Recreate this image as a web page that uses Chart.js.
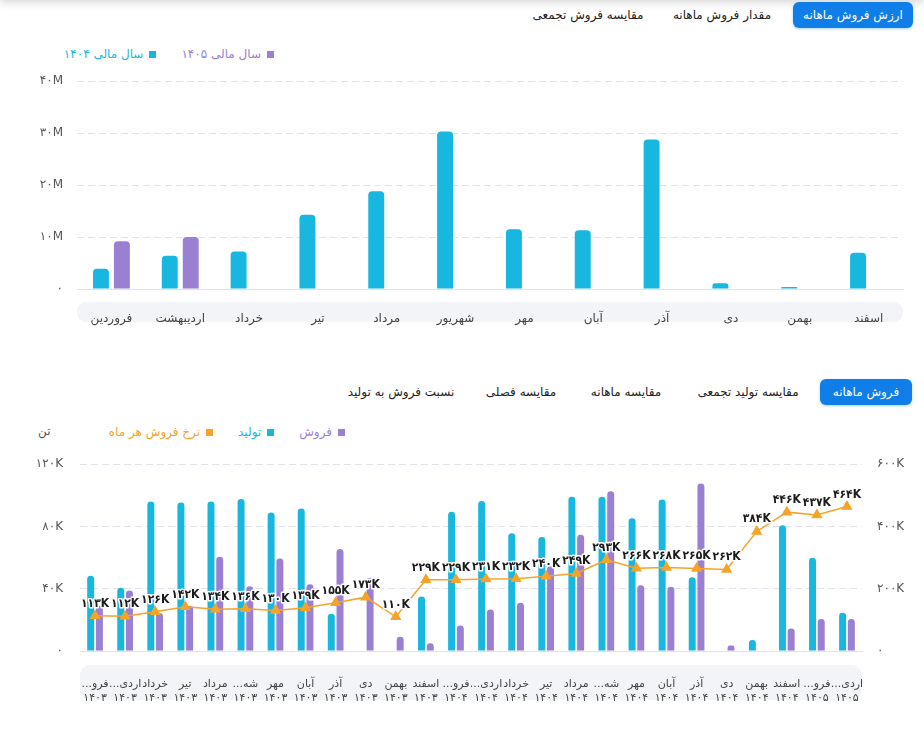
<!DOCTYPE html>
<html lang="fa">
<head>
<meta charset="utf-8">
<script src="https://cdn.jsdelivr.net/npm/chart.js@4.4.0/dist/chart.umd.min.js"></script>
<style>
  body { margin:0; width:924px; height:734px; background:#fff; position:relative; overflow:hidden; font-family:"DejaVu Sans", sans-serif; }
  .topshade { position:absolute; left:0; top:-12px; width:924px; height:12px; box-shadow:0 2px 10px rgba(0,0,0,0.18); }
  .tab { position:absolute; font-size:12px; color:#222; white-space:nowrap; transform:translateX(-50%); line-height:26px; direction:rtl; }
  .btn { position:absolute; background:#0f7ee8; color:#fff; border-radius:6px; font-size:12px; line-height:26px; text-align:center; direction:rtl; box-shadow:0 1px 3px rgba(15,126,232,0.35); }
  .legend { position:absolute; display:flex; direction:rtl; gap:25px; font-size:12px; }
  .legend span.item { display:flex; align-items:center; gap:6px; }
  .legend i { display:inline-block; width:7px; height:7px; }
  .unit { position:absolute; left:38px; top:424px; font-size:12px; color:#555; }
  .wrap { position:absolute; left:0; width:924px; }
  canvas { direction:rtl; }
</style>
</head>
<body>
<div class="topshade"></div>

<div class="btn" style="left:793px;top:2px;width:120px;height:26px;">ارزش فروش ماهانه</div>
<div class="tab" style="left:722px;top:2px;">مقدار فروش ماهانه</div>
<div class="tab" style="left:588px;top:2px;">مقایسه فروش تجمعی</div>

<div class="legend" id="legendTop" style="right:650px;top:47px;"></div>
<div class="wrap" style="top:60px;height:275px;"><canvas id="salesValue" width="924" height="275"></canvas></div>

<div class="btn" style="left:820px;top:379px;width:92px;height:26px;">فروش ماهانه</div>
<div class="tab" style="left:748px;top:379px;">مقایسه تولید تجمعی</div>
<div class="tab" style="left:626px;top:379px;">مقایسه ماهانه</div>
<div class="tab" style="left:521px;top:379px;">مقایسه فصلی</div>
<div class="tab" style="left:401px;top:379px;">نسبت فروش به تولید</div>

<div class="unit">تن</div>
<div class="legend" id="legendBottom" style="right:579px;top:425px;"></div>
<div class="wrap" style="top:440px;height:270px;"><canvas id="salesMonthly" width="924" height="270"></canvas></div>

<script>
// ---- top chart: monthly sales value ----
const months = ['فروردین','اردیبهشت','خرداد','تیر','مرداد','شهریور','مهر','آبان','آذر','دی','بهمن','اسفند'];
const value1404 = [3.9e6, 6.4e6, 7.2e6, 14.3e6, 18.8e6, 30.3e6, 11.5e6, 11.3e6, 28.8e6, 1.1e6, 0.4e6, 7.0e6];
const value1405 = [9.2e6, 10.0e6, null, null, null, null, null, null, null, null, null, null];

// ---- bottom chart: monthly production / sales / rate ----
const shortMonths = ['فرو...','اردی...','خرداد','تیر','مرداد','شه...','مهر','آبان','آذر','دی','بهمن','اسفند',
                     'فرو...','اردی...','خرداد','تیر','مرداد','شه...','مهر','آبان','آذر','دی','بهمن','اسفند',
                     'فرو...','اردی...'];
const years = ['۱۴۰۳','۱۴۰۳','۱۴۰۳','۱۴۰۳','۱۴۰۳','۱۴۰۳','۱۴۰۳','۱۴۰۳','۱۴۰۳','۱۴۰۳','۱۴۰۳','۱۴۰۳',
               '۱۴۰۴','۱۴۰۴','۱۴۰۴','۱۴۰۴','۱۴۰۴','۱۴۰۴','۱۴۰۴','۱۴۰۴','۱۴۰۴','۱۴۰۴','۱۴۰۴','۱۴۰۴',
               '۱۴۰۵','۱۴۰۵'];
// tons
const production = [48300, 40600, 96000, 95400, 96000, 97600, 88900, 91500, 24000, null, null, 35000,
                    89500, 96400, 75700, 73300, 99100, 99100, 85300, 97400, 47300, null, 7100, 80800,
                    59900, 24500];
const sales = [29000, 38800, 24400, 29000, 60500, 41600, 59500, 42800, 65600, 47000, 9100, 5000,
               16400, 26600, 31000, 54400, 74700, 102700, 42200, 41200, 107600, 3500, 400, 14400,
               20500, 20500];
// rate per month
const rate = [113000, 112000, 126000, 142000, 134000, 136000, 130000, 139000, 155000, 173000, 110000, 229000,
              229000, 231000, 232000, 240000, 249000, 293000, 266000, 268000, 265000, 262000, 384000, 446000,
              437000, 464000];

const CYAN = '#18b7df', PURPLE = '#9a7fd3', ORANGE = '#f6a328';
const FONT = '"DejaVu Sans", sans-serif';

function fa(s) {
  return String(s).replace(/[0-9]/g, d => '۰۱۲۳۴۵۶۷۸۹'[d]);
}
function shortNum(v, unit, div) {
  return v === 0 ? '۰' : fa(v / div) + unit;
}

// rounded band behind the category labels
const axisBand = {
  id: 'axisBand',
  beforeDraw(chart, args, opts) {
    const {ctx, chartArea} = chart;
    ctx.save();
    ctx.fillStyle = '#f3f4f8';
    ctx.beginPath();
    ctx.roundRect(chartArea.left, chartArea.bottom + opts.top, chartArea.right - chartArea.left, opts.height, opts.radius);
    ctx.fill();
    ctx.restore();
  }
};

// value labels over the line points
const pointLabels = {
  id: 'pointLabels',
  afterDatasetsDraw(chart) {
    const ctx = chart.ctx;
    chart.data.datasets.forEach((ds, i) => {
      if (ds.type !== 'line') return;
      const meta = chart.getDatasetMeta(i);
      ctx.save();
      ctx.direction = 'ltr';
      ctx.font = 'bold 12px "DejaVu Sans Condensed", "DejaVu Sans", sans-serif';
      ctx.textAlign = 'center';
      ctx.textBaseline = 'alphabetic';
      ctx.lineWidth = 3;
      ctx.lineJoin = 'round';
      ctx.strokeStyle = '#fff';
      ctx.fillStyle = '#1b1b1b';
      meta.data.forEach((pt, j) => {
        const t = fa(Math.round(ds.data[j] / 1000)) + 'K';
        ctx.strokeText(t, pt.x, pt.y - 9);
        ctx.fillText(t, pt.x, pt.y - 9);
      });
      ctx.restore();
    });
  }
};

function buildLegend(el, chart, order) {
  order.forEach(i => {
    const ds = chart.data.datasets[i];
    const color = ds.legendColor;
    const item = document.createElement('span');
    item.className = 'item';
    item.innerHTML = '<i style="background:' + color + '"></i><span style="color:' + color + '">' + ds.label + '</span>';
    el.appendChild(item);
  });
}

const topChart = new Chart(document.getElementById('salesValue'), {
  type: 'bar',
  data: {
    labels: months,
    datasets: [
      { label: 'سال مالی ۱۴۰۴', data: value1404, backgroundColor: CYAN, legendColor: CYAN, borderRadius: 4, borderSkipped: 'start' },
      { label: 'سال مالی ۱۴۰۵', data: value1405, backgroundColor: PURPLE, legendColor: PURPLE, borderRadius: 4, borderSkipped: 'start' }
    ]
  },
  options: {
    responsive: false,
    animation: false,
    layout: { padding: { top: 17, right: 21, left: 0, bottom: 0 } },
    datasets: { bar: { categoryPercentage: 0.61, barPercentage: 0.76 } },
    plugins: {
      legend: { display: false },
      tooltip: { enabled: false },
      axisBand: { top: 13, height: 20, radius: 9 }
    },
    scales: {
      x: {
        grid: { display: false },
        border: { display: true, color: '#e2e3ea' },
        ticks: { color: '#444', font: { family: FONT, size: 12 }, padding: 15, maxRotation: 0 },
        afterFit: s => { s.height = 46; }
      },
      y: {
        min: 0, max: 40e6,
        grid: { color: '#e2e3ea', drawTicks: false },
        border: { display: false, dash: [7, 4] },
        ticks: { stepSize: 10e6, color: '#555', font: { family: FONT, size: 12 }, padding: 14,
                 callback: v => shortNum(v, 'M', 1e6) },
        afterFit: s => { s.width = 77; }
      }
    }
  },
  plugins: [axisBand]
});
buildLegend(document.getElementById('legendTop'), topChart, [1, 0]);

const bottomChart = new Chart(document.getElementById('salesMonthly'), {
  type: 'bar',
  data: {
    labels: shortMonths.map((m, i) => [m, years[i]]),
    datasets: [
      { type: 'line', label: 'نرخ فروش هر ماه', data: rate, yAxisID: 'y1', order: 0,
        borderColor: ORANGE, backgroundColor: ORANGE, legendColor: ORANGE, borderWidth: 1.5,
        pointStyle: 'triangle', pointRadius: 5, pointBackgroundColor: ORANGE, pointBorderColor: ORANGE, tension: 0 },
      { label: 'تولید', data: production, yAxisID: 'y', order: 1, backgroundColor: CYAN, legendColor: CYAN,
        borderRadius: 4, borderSkipped: 'start' },
      { label: 'فروش', data: sales, yAxisID: 'y', order: 1, backgroundColor: PURPLE, legendColor: PURPLE,
        borderRadius: 4, borderSkipped: 'start' }
    ]
  },
  options: {
    responsive: false,
    animation: false,
    layout: { padding: { top: 14, right: 0, left: 0, bottom: 0 } },
    datasets: { bar: { categoryPercentage: 0.58, barPercentage: 0.8 } },
    plugins: {
      legend: { display: false },
      tooltip: { enabled: false },
      axisBand: { top: 14, height: 35, radius: 10 }
    },
    scales: {
      x: {
        grid: { display: false },
        border: { display: true, color: '#e2e3ea' },
        ticks: { color: '#444', font: { family: FONT, size: 11, lineHeight: '14px' }, padding: 18, maxRotation: 0, autoSkip: false },
        afterFit: s => { s.height = 59; }
      },
      y: {
        position: 'left',
        min: 0, max: 120000,
        grid: { color: '#e2e3ea', drawTicks: false },
        border: { display: false, dash: [7, 4] },
        ticks: { stepSize: 40000, color: '#555', font: { family: FONT, size: 12 }, padding: 17,
                 callback: v => shortNum(v, 'K', 1000) },
        afterFit: s => { s.width = 80; }
      },
      y1: {
        position: 'right',
        min: 0, max: 600000,
        grid: { display: false, drawTicks: false },
        border: { display: false },
        ticks: { stepSize: 200000, color: '#555', font: { family: FONT, size: 12 }, padding: 15,
                 callback: v => shortNum(v, 'K', 1000) },
        afterFit: s => { s.width = 62; }
      }
    }
  },
  plugins: [axisBand, pointLabels]
});
buildLegend(document.getElementById('legendBottom'), bottomChart, [2, 1, 0]);
</script>
</body>
</html>
